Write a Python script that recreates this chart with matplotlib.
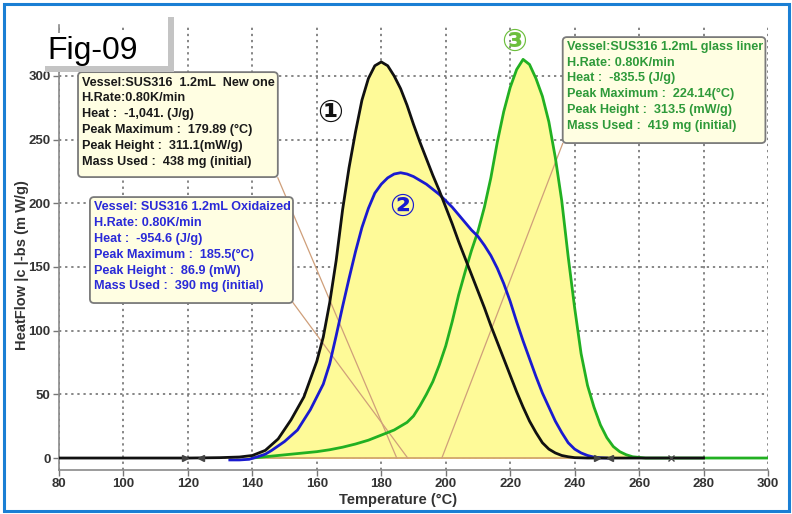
import numpy as np
import matplotlib
matplotlib.use("Agg")
import matplotlib.pyplot as plt
from matplotlib.patches import FancyBboxPatch, Rectangle

# curve 1 : SUS316 new vessel (black)
t1 = [80, 100, 120, 130, 136, 140, 144, 148, 152, 156, 158, 160, 162, 164, 166, 168,
      170, 172, 174, 176, 178, 180, 182, 184, 186, 188, 190, 192, 194, 196, 198, 200,
      202, 204, 206, 208, 210, 212, 214, 216, 218, 220, 222, 224, 226, 228, 230, 232,
      234, 236, 238, 240, 244, 260, 280]
hf1 = [0, 0, 0, 0.3, 0.8, 2, 6, 15, 30, 48, 62, 76, 95, 122, 155, 195,
       228, 256, 281, 298, 308, 311, 308, 300, 290, 277, 262, 248, 235, 222, 210, 197,
       184, 170, 157, 144, 131, 118, 104, 91, 78, 65, 52, 40, 29, 20, 12, 7,
       4, 2, 1, 0.3, 0, 0, 0]

# curve 2 : SUS316 oxidized (blue)
t2 = [133, 136, 139, 141, 144, 146, 150, 154, 158, 160, 162, 164, 166, 168, 170, 172,
      174, 176, 178, 180, 182, 184, 186, 188, 190, 192, 194, 196, 198, 200, 202, 204,
      206, 208, 210, 212, 214, 216, 218, 220, 222, 224, 226, 228, 230, 232, 234, 236,
      238, 240, 242, 244, 246, 248, 250]
hf2 = [-1.5, -1.5, -1, 0.5, 3, 6, 13, 22, 38, 48, 58, 74, 96, 119, 141, 162,
       181, 196, 208, 215, 220, 223, 224, 223, 221, 218, 215, 211, 207, 202, 197, 191,
       185, 179, 174, 167, 159, 149, 137, 123, 107, 92, 78, 64, 51, 40, 29, 20,
       12, 7, 4, 2, 0.7, 0.2, 0]

# curve 3 : SUS316 glass liner (green)
t3 = [140, 144, 150, 156, 160, 164, 168, 172, 176, 180, 184, 188, 190, 192, 194, 196,
      198, 200, 202, 204, 206, 208, 210, 212, 214, 216, 218, 220, 222, 224, 226, 228,
      230, 232, 234, 236, 238, 240, 242, 244, 246, 248, 250, 252, 254, 256, 258, 260,
      262, 280, 300]
hf3 = [0, 1, 2.5, 4, 5, 6.5, 8.5, 11, 14, 18, 22, 28, 33, 41, 50, 60,
       73, 88, 107, 128, 146, 163, 178, 197, 220, 248, 272, 291, 305, 313, 309, 298,
       284, 264, 236, 202, 158, 118, 82, 57, 40, 26, 16, 9, 5, 2.6, 1, 0.5,
       0, 0, 0]

# onset connector lines (box -> onset on baseline)
onset_t = [[147.9, 184.8], [152.6, 188.2], [236.3, 198.8]]
onset_hf = [[220, 0], [122, 0], [247, 0]]

box_texts = [
    "Vessel:SUS316  1.2mL  New one\nH.Rate:0.80K/min\nHeat :  -1,041. (J/g)\n"
    "Peak Maximum :  179.89 (\u00b0C)\nPeak Height :  311.1(mW/g)\nMass Used :  438 mg (initial)",
    "Vessel: SUS316 1.2mL Oxidaized\nH.Rate: 0.80K/min\nHeat :  -954.6 (J/g)\n"
    "Peak Maximum :  185.5(\u00b0C)\nPeak Height :  86.9 (mW)\nMass Used :  390 mg (initial)",
    "Vessel:SUS316 1.2mL glass liner\nH.Rate: 0.80K/min\nHeat :  -835.5 (J/g)\n"
    "Peak Maximum :  224.14(\u00b0C)\nPeak Height :  313.5 (mW/g)\nMass Used :  419 mg (initial)",
]
labels = ["\u2460", "\u2461", "\u2462"]

line_cols = ["#111111", "#1a1ad0", "#22b022"]
text_cols = ["#1a1a1a", "#2a2ad8", "#2e9a3a"]
num_cols = ["#111111", "#1a1ad0", "#6cbf3c"]

W, H = 792, 514
fig = plt.figure(figsize=(W / 100, H / 100), dpi=100)
fig.patch.set_facecolor("white")
ax = fig.add_axes([59 / W, 44 / H, 709 / W, 445 / H])

nar = ["Liberation Sans Narrow", "Liberation Sans", "DejaVu Sans"]

# yellow fills first, then lines on top
for t, v in [(t3, hf3), (t2, hf2), (t1, hf1)]:
    ax.fill_between(t, 0, v, color="#fefa98", lw=0, zorder=1)

ax.plot([140, 262], [0, 0], color="#cf9f6a", lw=1.2, zorder=1.5)
for tt, vv in zip(onset_t, onset_hf):
    ax.plot(tt, vv, color="#cf9f7a", lw=0.9, zorder=1.6)

ax.plot(t3, hf3, color=line_cols[2], lw=2, zorder=3)
ax.plot(t2, hf2, color=line_cols[1], lw=2, zorder=4)
ax.plot(t1, hf1, color=line_cols[0], lw=2, zorder=5)

# little begin/end markers on the baseline
ax.plot([119, 247], [0, 0], ls="none", marker=">", ms=4, color="#444444", zorder=6)
ax.plot([124, 251], [0, 0], ls="none", marker="<", ms=4, color="#444444", zorder=6)
ax.plot([270], [0], ls="none", marker="x", ms=5, color="#444444", zorder=6)

ax.set_xlim(80, 300)
ax.set_ylim(-9.4, 340)
ax.set_xticks(np.arange(80, 301, 20))
ax.set_yticks(np.arange(0, 301, 50))
ax.grid(True, ls=(0, (1.5, 2.5)), color="#666666", lw=1.1, zorder=0)
ax.set_axisbelow(True)
for s in ["top", "right"]:
    ax.spines[s].set_visible(False)
for s in ["left", "bottom"]:
    ax.spines[s].set_color("#8a8a8a")
    ax.spines[s].set_linewidth(1.2)
ax.tick_params(length=4, width=1, color="#777777", labelcolor="#333333", pad=2)
for lab in ax.get_xticklabels() + ax.get_yticklabels():
    lab.set_family(nar)
    lab.set_fontweight("bold")
    lab.set_fontsize(9.5)

fig.text(398 / W, 1 - 500 / H, "Temperature (\u00b0C)", ha="center", va="center",
         family=nar, fontsize=10.5, fontweight="bold", color="#333333")
fig.text(22 / W, 1 - 265 / H, "HeatFlow |c |-bs (m W/g)", ha="center", va="center",
         rotation=90, family=nar, fontsize=10.5, fontweight="bold", color="#333333")

# info boxes (extent in data units) and their texts
box_ext = [(85.9, 220.6, 62.0, 82.4), (89.6, 121.7, 63.0, 83.2), (236.3, 247.3, 62.9, 83.2)]
txt_pos = [(87.0, 299.5), (90.8, 201.5), (237.5, 327.5)]
for i in range(3):
    x0, y0, w, h = box_ext[i]
    ax.add_patch(FancyBboxPatch((x0, y0), w, h, boxstyle="round,pad=0,rounding_size=1.3",
                                mutation_aspect=2.5, fc="#fffee2", ec="#7a7a7a", lw=1.3,
                                zorder=8))
    ax.text(txt_pos[i][0], txt_pos[i][1], box_texts[i], ha="left", va="top",
            family=nar, fontsize=9.1, fontweight="bold", color=text_cols[i],
            linespacing=1.42, zorder=9)

num_pos = [(164, 271), (186.4, 197), (221.1, 326.5)]
for i in range(3):
    ax.text(num_pos[i][0], num_pos[i][1], labels[i], ha="center", va="center",
            fontsize=22, fontweight="bold", color=num_cols[i],
            family=["DejaVu Sans", "Noto Sans CJK JP"], zorder=9)

# "Fig-09" tag with grey shadow
fig.patches.append(Rectangle((168 / W, 1 - 72 / H), 6 / W, 55 / H, transform=fig.transFigure,
                             fc="#c4c4c4", ec="none", zorder=5))
fig.patches.append(Rectangle((45 / W, 1 - 72 / H), 129 / W, 6 / H, transform=fig.transFigure,
                             fc="#c4c4c4", ec="none", zorder=5))
fig.patches.append(Rectangle((45 / W, 1 - 66 / H), 123 / W, 33 / H, transform=fig.transFigure,
                             fc="white", ec="none", zorder=5))
fig.text(47 / W, 1 - 59 / H, "Fig-09", ha="left", va="baseline", fontsize=23,
         family=["Liberation Sans", "DejaVu Sans"], color="black", zorder=6)

# blue frame round the whole picture
fig.patches.append(Rectangle((4 / W, 3 / H), 785 / W, 507 / H, transform=fig.transFigure,
                             fc="none", ec="#1a7fd4", lw=2.2, zorder=10))

fig.savefig("out.png", dpi=100)
